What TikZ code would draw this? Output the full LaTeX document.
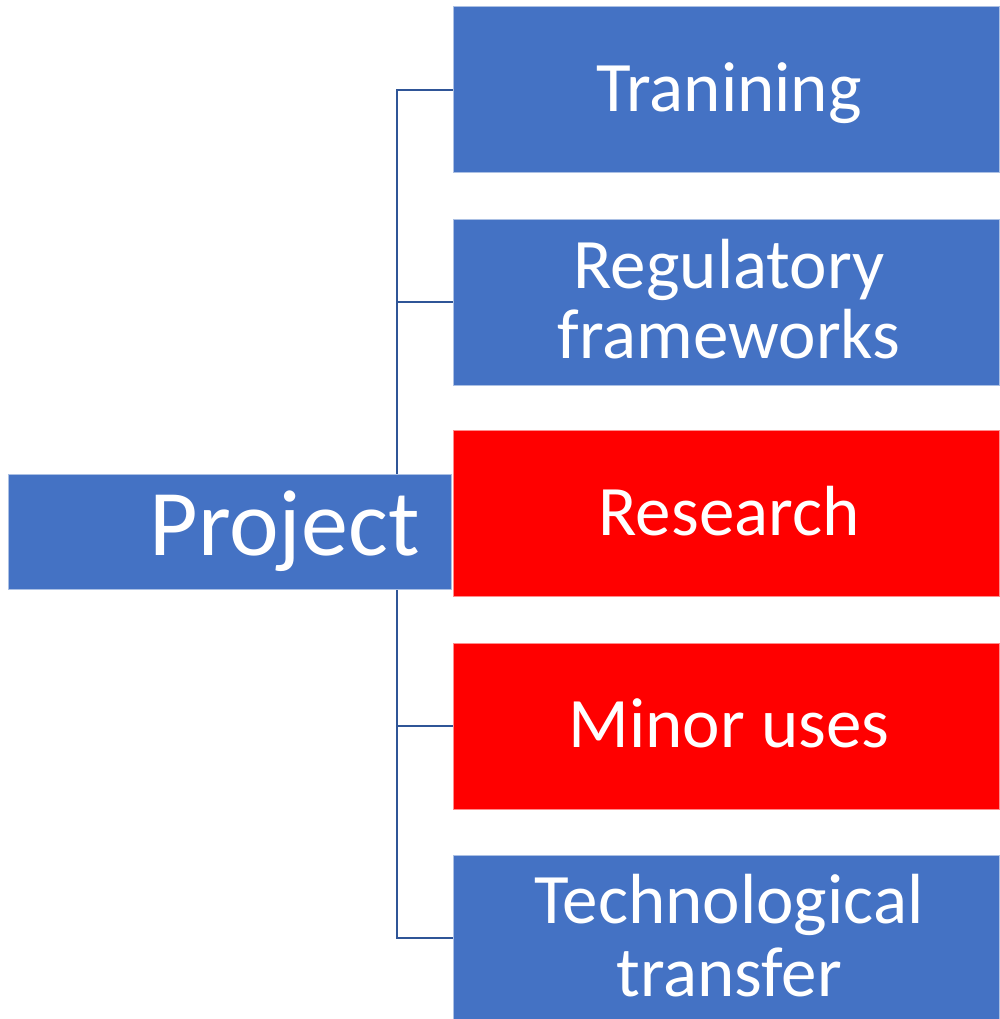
\documentclass[tikz,border=0pt]{standalone}
\usepackage{fontspec}
\setmainfont{Carlito}
\definecolor{boxblue}{HTML}{4472C4}
\definecolor{boxred}{HTML}{FF0000}
\definecolor{linkblue}{HTML}{2F5597}
\begin{document}
\begin{tikzpicture}[x=1pt,y=-1pt,
  box/.style={draw=white!55!#1, line width=1pt, fill=#1, minimum width=546, minimum height=166, inner sep=0},
  lbl/.style={text=white, anchor=base, inner sep=0, font=\fontsize{71}{71}\selectfont},
  link/.style={draw=linkblue, line width=2.2pt}]
\useasboundingbox (0,0) rectangle (999,1019);
\node[box=boxblue] (t1) at (726,90) {};
\node[box=boxblue] (t2) at (726,302) {};
\node[box=boxred]  (t3) at (726,513.5) {};
\node[box=boxred]  (t4) at (726,726) {};
\node[box=boxblue] (t5) at (726,938) {};
\node[lbl] (l1) at (729,112) {Tranining};
\node[lbl] (l2a) at (729,288) {Regulatory};
\node[lbl] (l2b) at (729,358) {frameworks};
\node[lbl] (l3) at (729,535) {Research};
\node[lbl] (l4) at (729,747) {Minor uses};
\node[lbl] (l5a) at (729,923) {Technological};
\node[lbl] (l5b) at (729,996) {transfer};
\coordinate (trunk) at (397,0);
\draw[link] (t1.west) -| (trunk |- t5.west) -- (t5.west);
\draw[link] (trunk |- t2.west) -- (t2.west);
\draw[link] (trunk |- t4.west) -- (t4.west);
\node[draw=white!55!boxblue, line width=1pt, fill=boxblue, minimum width=443, minimum height=115, inner sep=0] (p) at (229.5,531.5) {};
\node[text=white, anchor=base, inner sep=0, font=\fontsize{94}{94}\selectfont] (pt) at (284.5,555) {Project};
\end{tikzpicture}
\end{document}
